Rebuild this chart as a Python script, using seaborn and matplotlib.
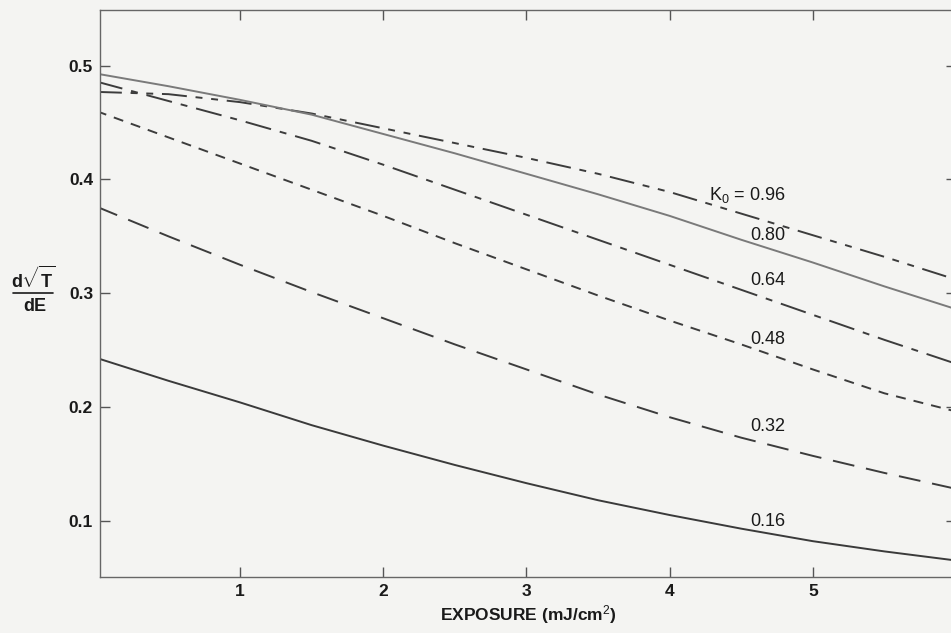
import numpy as np
import pandas as pd
import matplotlib
matplotlib.use("Agg")
import matplotlib.pyplot as plt
from matplotlib.lines import Line2D
import seaborn as sns

# ---- data ----
exposure = [0.0, 0.5, 1.0, 1.5, 2.0, 2.5, 3.0, 3.5, 4.0, 4.5, 5.0, 5.5, 6.0]
k096 = [0.477, 0.475, 0.468, 0.458, 0.445, 0.432, 0.419, 0.405, 0.389, 0.370, 0.351, 0.332, 0.312]
k080 = [0.493, 0.482, 0.470, 0.457, 0.440, 0.423, 0.405, 0.387, 0.368, 0.347, 0.327, 0.306, 0.286]
k064 = [0.486, 0.469, 0.452, 0.434, 0.413, 0.391, 0.369, 0.347, 0.325, 0.303, 0.281, 0.259, 0.238]
k048 = [0.460, 0.437, 0.414, 0.391, 0.368, 0.344, 0.321, 0.298, 0.276, 0.255, 0.233, 0.212, 0.196]
k032 = [0.376, 0.350, 0.325, 0.301, 0.278, 0.255, 0.233, 0.211, 0.191, 0.173, 0.157, 0.142, 0.128]
k016 = [0.243, 0.223, 0.204, 0.184, 0.166, 0.149, 0.133, 0.118, 0.105, 0.093, 0.082, 0.073, 0.065]
k_labels = ["0.96", "0.80", "0.64", "0.48", "0.32", "0.16"]
x_ticks = [1, 2, 3, 4, 5]
y_ticks = [0.1, 0.2, 0.3, 0.4, 0.5]

series = dict(zip(k_labels, [k096, k080, k064, k048, k032, k016]))
df = pd.concat(
    [pd.DataFrame({"E": exposure, "slope": v, "K": k}) for k, v in series.items()],
    ignore_index=True,
)

sns.set_theme(style="white")
plt.rcParams["font.family"] = ["Liberation Sans", "DejaVu Sans"]
plt.rcParams["lines.scale_dashes"] = False
plt.rcParams["mathtext.fontset"] = "custom"
plt.rcParams["mathtext.rm"] = "Liberation Sans"
plt.rcParams["mathtext.it"] = "Liberation Sans"
plt.rcParams["mathtext.bf"] = "Liberation Sans:bold"

bg = "#f4f4f2"
ink = "#1a1a1a"
fig = plt.figure(figsize=(9.51, 6.33), dpi=100, facecolor=bg)
ax = fig.add_axes([100 / 951, 1 - 577 / 633, (956 - 100) / 951, (577 - 10) / 633])
ax.set_facecolor(bg)

dashes = {
    "0.96": (18, 6.3, 5, 6.3, 5, 6.3),
    "0.80": "",
    "0.64": (19, 6.5, 5, 6.5),
    "0.48": (7.2, 5.8),
    "0.32": (15.8, 8.6),
    "0.16": "",
}
palette = {
    "0.96": "#3c3c3c",
    "0.80": "#7a7a7a",
    "0.64": "#3c3c3c",
    "0.48": "#3c3c3c",
    "0.32": "#3c3c3c",
    "0.16": "#3a3a3a",
}
sns.lineplot(data=df, x="E", y="slope", hue="K", style="K", dashes=dashes,
             palette=palette, linewidth=1.4, legend=False, ax=ax)

ax.set_xlim(0.022, 6.0)
ax.set_ylim(0.0505, 0.549)
ax.set_xticks(x_ticks)
ax.set_xticklabels([str(t) for t in x_ticks])
ax.set_yticks(y_ticks)
ax.set_yticklabels([f"{t:.1f}" for t in y_ticks])
ax.tick_params(axis="both", direction="in", length=7, width=1.0, color="#555555",
               labelsize=12.5, labelcolor=ink, pad=5,
               top=True, right=True, bottom=True, left=True)
for lab in ax.get_xticklabels() + ax.get_yticklabels():
    lab.set_fontweight("bold")
for s in ax.spines.values():
    s.set_color("#666666")
    s.set_linewidth(1.0)

ax.set_xlabel("EXPOSURE (mJ/cm$^2$)", fontsize=12.5, fontweight="bold",
              color=ink, labelpad=3)
ax.set_ylabel("")

# y-axis label drawn as a stacked fraction d\sqrt{T} / dE
fig.text(33 / 951, 1 - 279 / 633, r"$\mathbf{d}\sqrt{\mathbf{T}}$", fontsize=13,
         ha="center", va="center", color=ink)
fig.text(35 / 951, 1 - 307 / 633, "dE", fontsize=13, fontweight="bold",
         ha="center", va="center", color=ink)
fig.add_artist(Line2D([13 / 951, 53 / 951], [1 - 293 / 633, 1 - 293 / 633],
                      transform=fig.transFigure, color=ink, linewidth=1.2))

# curve labels (right-aligned next to the curves)
label_y = {"0.96": 0.3865, "0.80": 0.3505, "0.64": 0.3112,
           "0.48": 0.259, "0.32": 0.1828, "0.16": 0.0992}
for k in k_labels:
    txt = f"K$_0$ = {k}" if k == "0.96" else k
    ax.text(4.81, label_y[k], txt, ha="right", va="center", fontsize=13,
            color=ink)

fig.savefig("out.png", dpi=100, facecolor=bg)
